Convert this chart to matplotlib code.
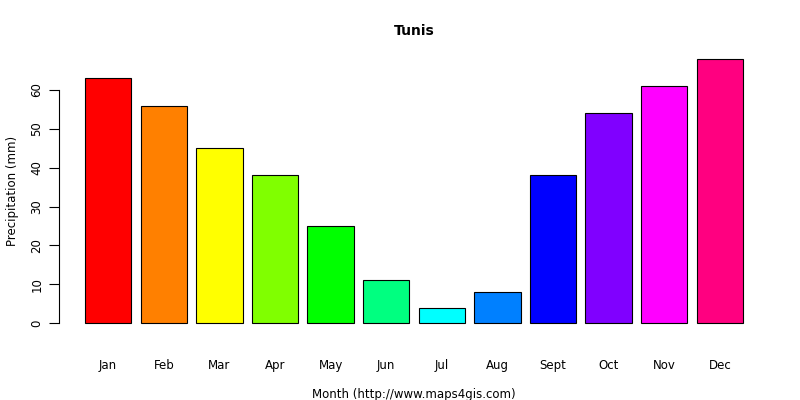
import matplotlib
matplotlib.use("Agg")
import matplotlib.pyplot as plt

months = ["Jan","Feb","Mar","Apr","May","Jun","Jul","Aug","Sept","Oct","Nov","Dec"]
precip = [63, 56, 45, 38, 25, 11, 4, 8, 38, 54, 61, 68]
colors = ["#FF0000","#FF8000","#FFFF00","#80FF00","#00FF00","#00FF80",
          "#00FFFF","#0080FF","#0000FF","#8000FF","#FF00FF","#FF0080"]

fig = plt.figure(figsize=(8, 4), dpi=100)
W, H = 800, 400
left, right, top, bottom = 58.7, 769.3, 48.4, 333.6
ax = fig.add_axes([left/W, 1-bottom/H, (right-left)/W, (bottom-top)/H])
xs = [0.7 + 1.2*i for i in range(len(precip))]
ax.bar(xs, precip, width=1.0, color=colors, edgecolor="black", linewidth=0.8)
ax.set_xlim(-0.368, 14.968)
ax.set_ylim(-2.72, 70.72)
for s in ["top", "right", "bottom"]:
    ax.spines[s].set_visible(False)
ax.spines["left"].set_bounds(0, 60)
ax.set_yticks([0, 10, 20, 30, 40, 50, 60])
ax.tick_params(axis="y", length=7, labelsize=8.5, pad=4)
for lab in ax.get_yticklabels():
    lab.set_rotation(90)
    lab.set_va("center")
ax.set_xticks(xs)
ax.set_xticklabels(months)
ax.tick_params(axis="x", length=0, labelsize=8.5, pad=18)
ax.set_ylabel("Precipitation (mm)", fontsize=8.5, labelpad=8)
ax.set_xlabel("Month (http://www.maps4gis.com)", fontsize=8.5, labelpad=12)
ax.set_title("Tunis", fontsize=10, fontweight="bold", pad=10)
fig.savefig("out.png", dpi=100)
